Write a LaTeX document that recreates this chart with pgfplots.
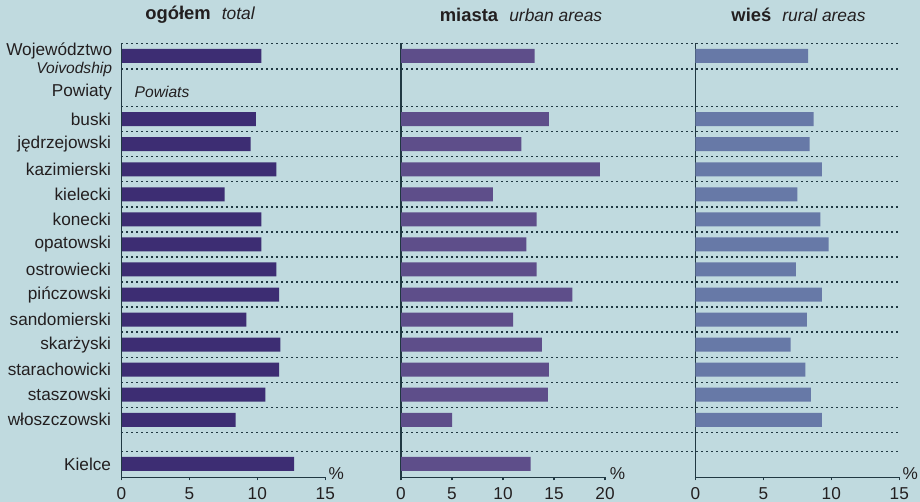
\documentclass[border=0pt]{standalone}
\usepackage{fontspec}
\setmainfont{Liberation Sans}
\usepackage{pgfplots}
\usepackage{pgfplotstable}
\pgfplotsset{compat=1.18}

\definecolor{bgc}{RGB}{192,218,223}
\definecolor{axc}{RGB}{32,56,66}
\definecolor{txt}{RGB}{35,31,32}
\definecolor{cA}{RGB}{61,45,115}
\definecolor{cB}{RGB}{94,78,138}
\definecolor{cC}{RGB}{103,121,167}

% row positions are screen rows (negated), values in %
\pgfplotstableread{
pos val
-55.9 10.3
-119.2 9.9
-144.25 9.5
-169.3 11.4
-194.35 7.6
-219.4 10.3
-244.45 10.3
-269.5 11.4
-294.55 11.6
-319.6 9.2
-344.65 11.7
-369.7 11.6
-394.75 10.6
-419.8 8.4
-464 12.7
}\ogolem

\pgfplotstableread{
pos val
-55.9 13.1
-119.2 14.5
-144.25 11.8
-169.3 19.5
-194.35 9.0
-219.4 13.3
-244.45 12.3
-269.5 13.3
-294.55 16.8
-319.6 11.0
-344.65 13.8
-369.7 14.5
-394.75 14.4
-419.8 5.0
-464 12.7
}\miasta

\pgfplotstableread{
pos val
-55.9 8.3
-119.2 8.7
-144.25 8.4
-169.3 9.3
-194.35 7.5
-219.4 9.2
-244.45 9.8
-269.5 7.4
-294.55 9.3
-319.6 8.2
-344.65 7.0
-369.7 8.1
-394.75 8.5
-419.8 9.3
}\wies

\newcommand{\lab}{\fontsize{8.6}{10}\selectfont}
\newcommand{\labi}{\fontsize{7.8}{9}\selectfont\itshape}

\tikzset{dotline/.style={draw=axc, line width=0.65pt, dash pattern=on 0.65pt off 1.85pt}}

\pgfplotsset{
  panel/.style={
    scale only axis, width=102pt, height=217pt,
    anchor=south west,
    ymin=-477.3, ymax=-43.3,
    axis x line*=bottom, axis y line*=left,
    axis line style={draw=axc, line width=0.7pt, -},
    tick align=outside, major tick length=1.6pt,
    tick style={draw=axc, line width=0.6pt},
    ytick=\empty,
    xticklabel style={font=\lab, text=txt},
    /pgf/number format/assume math mode=true,
    clip=false,
  },
}

\begin{document}
\begin{tikzpicture}
\fill[bgc] (0,0) rectangle (460pt,251pt);
\useasboundingbox (0,0) rectangle (460pt,251pt);

\node[text=txt] at (100pt,243.5pt) {\fontsize{9.2}{11}\selectfont\textbf{ogółem}\hspace{0.6em}{\fontsize{8.7}{10}\selectfont\itshape total}};
\node[text=txt] at (260.5pt,243.5pt) {\fontsize{9.2}{11}\selectfont\textbf{miasta}\hspace{0.6em}{\fontsize{8.7}{10}\selectfont\itshape urban areas}};
\node[text=txt] at (399.25pt,243.5pt) {\fontsize{9.2}{11}\selectfont\textbf{wieś}\hspace{0.6em}{\fontsize{8.7}{10}\selectfont\itshape rural areas}};

% ogółem
\begin{axis}[panel, at={(60.65pt,12.35pt)},
  xmin=0, xmax=15, xtick={0,5,10,15},
  ytick={-119.2,-144.25,-169.3,-194.35,-219.4,-244.45,-269.5,-294.55,-319.6,-344.65,-369.7,-394.75,-419.8,-464},
  yticklabels={buski,jędrzejowski,kazimierski,kielecki,konecki,opatowski,ostrowiecki,pińczowski,sandomierski,skarżyski,starachowicki,staszowski,włoszczowski,Kielce},
  ytick style={draw=none},
  yticklabel style={font=\lab, text=txt},
]
\pgfplotsinvokeforeach{-43.3,-69,-106.7,-131.75,-156.8,-181.85,-206.9,-231.95,-257.0,-282.05,-307.1,-332.15,-357.2,-382.25,-407.3,-432.35,-451.7}{
  \draw[dotline] (axis cs:0,#1) -- ++(388.85pt,0pt);
}
\addplot[xbar, bar width=7pt, bar shift=0pt, draw=none, fill=cA] table[x=val, y=pos] {\ogolem};
\node[anchor=east, inner sep=0pt, xshift=-4.4pt, text=txt, font=\lab] at (axis cs:0,-51) {Województwo};
\node[anchor=east, inner sep=0pt, xshift=-4.4pt, text=txt, font=\labi] at (axis cs:0,-69) {Voivodship};
\node[anchor=east, inner sep=0pt, xshift=-4.4pt, text=txt, font=\lab] at (axis cs:0,-92) {Powiaty};
\node[anchor=west, inner sep=0pt, xshift=6.5pt, text=txt, font=\labi] at (axis cs:0,-92) {Powiats};
\node[text=txt, font=\lab, xshift=5.5pt, yshift=1.7pt] at (axis cs:15,-477.3) {\%};
\end{axis}

% miasta
\begin{axis}[panel, at={(200.5pt,12.35pt)},
  xmin=0, xmax=20, xtick={0,5,10,15,20},
]
\addplot[xbar, bar width=7pt, bar shift=0pt, draw=none, fill=cB] table[x=val, y=pos] {\miasta};
\node[text=txt, font=\lab, xshift=6.3pt, yshift=1.7pt] at (axis cs:20,-477.3) {\%};
\end{axis}

% wieś
\begin{axis}[panel, at={(347.65pt,12.35pt)},
  xmin=0, xmax=15, xtick={0,5,10,15},
]
\addplot[xbar, bar width=7pt, bar shift=0pt, draw=none, fill=cC] table[x=val, y=pos] {\wies};
\node[text=txt, font=\lab, xshift=5.5pt, yshift=1.7pt] at (axis cs:15,-477.3) {\%};
\end{axis}

% left axis line of the first panel
\draw[axc, line width=0.75pt] (60.65pt,12.35pt) -- (60.65pt,229.35pt);
\end{tikzpicture}
\end{document}
